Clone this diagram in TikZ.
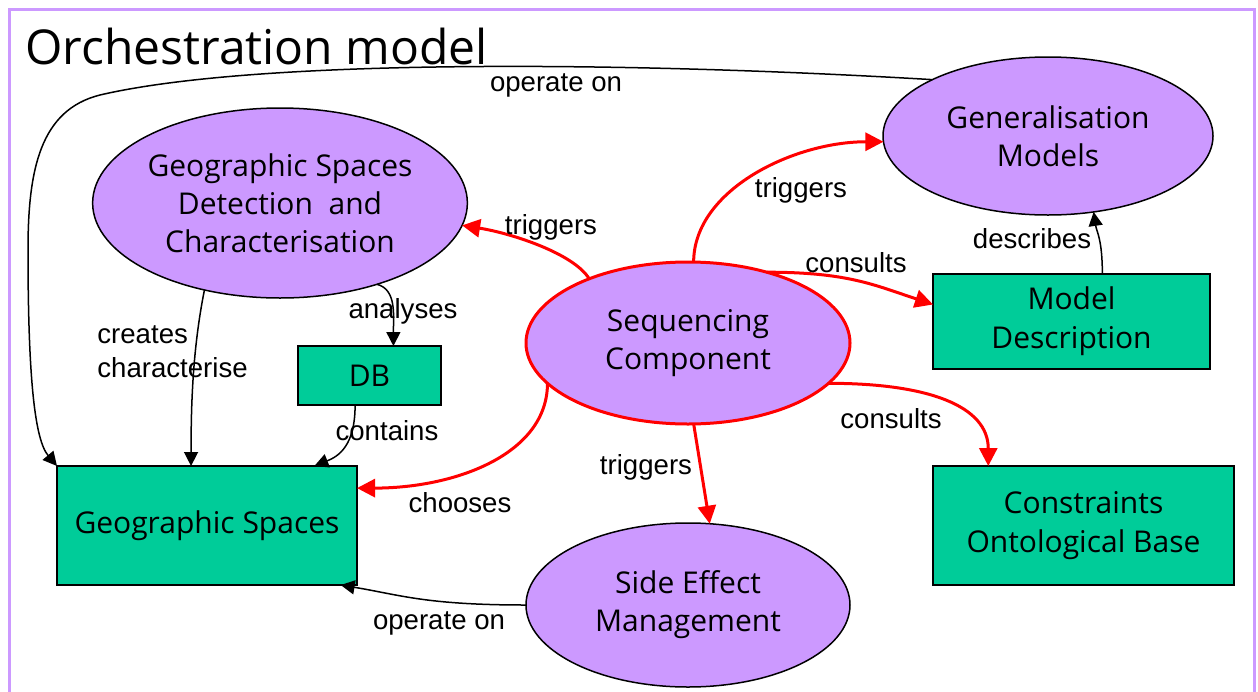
\documentclass[tikz,border=0pt]{standalone}
\usepackage{fontspec}
\setmainfont{Liberation Sans}
\newfontfamily\nodefont{Open Sans}
\usetikzlibrary{shapes.geometric,arrows.meta}
\definecolor{lilac}{HTML}{CC99FF}
\definecolor{mygreen}{HTML}{00CC99}
\definecolor{myred}{HTML}{FF0000}
\begin{document}
\begin{tikzpicture}[x=0.5pt,y=-0.5pt,
  ell/.style={ellipse, draw=black, line width=0.75pt, fill=lilac, inner sep=0pt, outer sep=0pt,
    font=\nodefont\fontsize{15}{19}\selectfont, align=center},
  box/.style={rectangle, draw=black, line width=0.75pt, fill=mygreen, inner sep=0pt, outer sep=0pt,
    font=\nodefont\fontsize{15}{19.5}\selectfont, align=center},
  blk/.style={draw=black, line width=0.75pt, -{Triangle[length=7pt,width=7pt]}},
  redarr/.style={draw=myred, line width=1.5pt, -{Triangle[length=9pt,width=9pt]}},
  lbl/.style={font=\fontsize{13.8}{17}\selectfont, inner sep=0pt}
]
\useasboundingbox (0,0) rectangle (1258,691);
\draw[lilac, line width=1.5pt] (9.5,9.5) rectangle (1254,740);
\node[anchor=base west, inner sep=0pt, font=\nodefont\fontsize{24}{28}\selectfont] (title) at (25,64) {Orchestration model};

% nodes
\node[ell, minimum width=187pt, minimum height=95pt] (gsd) at (280,203) {Geographic Spaces\\Detection\ \ and\\Characterisation};
\node[ell, minimum width=165pt, minimum height=79pt] (gen) at (1048,136) {Generalisation\\Models};
\node[ell, draw=myred, line width=1.5pt, minimum width=162pt, minimum height=81pt] (seq) at (688,343) {Sequencing\\Component};
\node[ell, minimum width=162pt, minimum height=82pt] (side) at (688,605) {Side Effect\\Management};
\node[box, minimum width=71.5pt, minimum height=29.5pt] (db) at (369.5,375.5) {DB};
\node[box, minimum width=150pt, minimum height=59.5pt] (gs) at (207,525.5) {Geographic Spaces};
\node[box, minimum width=138.5pt, minimum height=47.5pt] (md) at (1071.5,321.5) {Model\\Description};
\node[box, minimum width=150.5pt, minimum height=59.5pt] (cob) at (1083.5,525.5) {Constraints\\Ontological Base};

% red connectors
\draw[redarr] (seq.147) .. controls +(-15,-25) and +(50,8) .. (gsd.-7.8);
\draw[redarr] (seq.86) .. controls +(0,-72) and +(-90,0) .. (gen.182);
\draw[redarr] (seq.42) .. controls +(80,0) and +(-60,-20) .. (md.173);
\draw[redarr] (seq.-16.5) .. controls +(100,0) and +(0,-60) .. (cob.148);
\draw[redarr] (seq.-86) -- (side.75);
\draw[redarr] (seq.196) .. controls +(0,70) and +(100,0) .. (gs.14);

% black connectors
\draw[blk] (gen.154.6) .. controls (600,60) and (250,60) .. (100,95)
  .. controls (40,110) and (28,170) .. (28,250)
  .. controls (28,380) and (35,440) .. (gs.north west);
\draw[blk] (gsd.-40.8) .. controls +(20,5) and +(0,-30) .. (db.51.5);
\draw[blk] (gsd.229) .. controls +(-12,60) and +(0,-60) .. (gs.105.9);
\draw[blk] (db.-116) .. controls +(0,40) and +(25,-10) .. (gs.29.3);
\draw[blk] (md.57.3) .. controls +(0,-35) and +(3,20) .. (gen.-59.7);
\draw[blk] (side.west) .. controls +(-100,0) and +(60,10) .. (gs.-24);

% labels
\node[lbl] (l1) at (556,85) {operate on};
\node[lbl] (l2) at (551,227) {triggers};
\node[lbl] (l3) at (801,190) {triggers};
\node[lbl] (l4) at (856,263) {consults};
\node[lbl] (l5) at (891,419) {consults};
\node[lbl] (l6) at (646,467) {triggers};
\node[lbl] (l7) at (460,503) {chooses};
\node[lbl] (l8) at (403,311) {analyses};
\node[lbl, anchor=west, align=left, font=\fontsize{13.8}{17}\selectfont] (l9) at (97,352) {creates\\characterise};
\node[lbl] (l10) at (387,431) {contains};
\node[lbl] (l11) at (1032,239) {describes};
\node[lbl] (l12) at (439,623) {operate on};
\end{tikzpicture}
\end{document}
